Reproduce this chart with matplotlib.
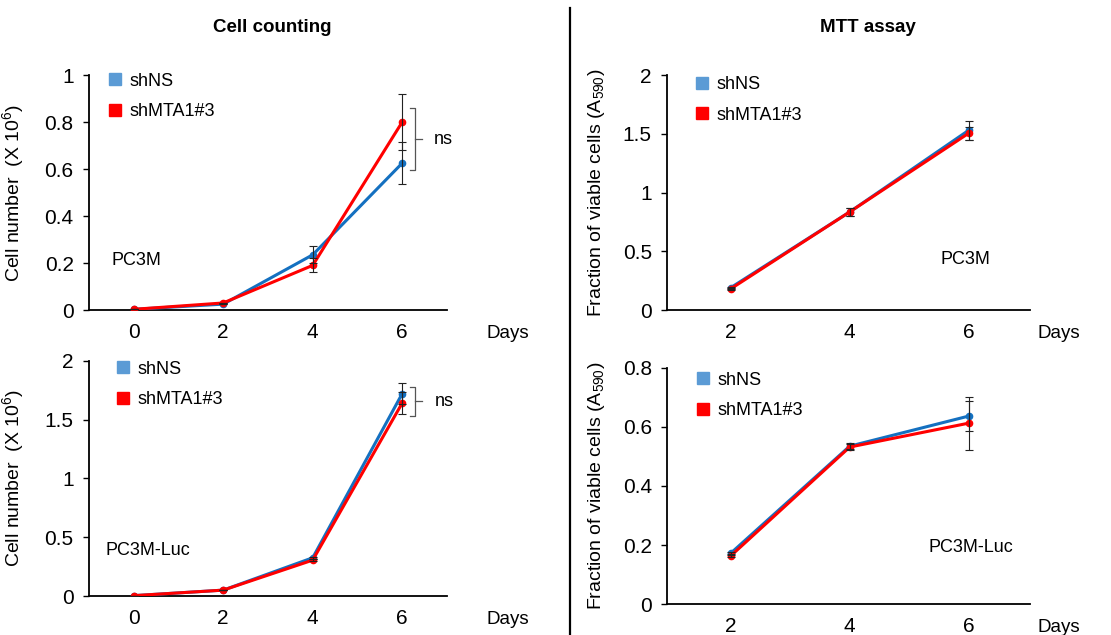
import numpy as np
import matplotlib
matplotlib.use("Agg")
import matplotlib.pyplot as plt
from matplotlib.lines import Line2D
from matplotlib.ticker import FuncFormatter

plt.rcParams['font.family'] = ['Liberation Sans', 'DejaVu Sans']
plt.rcParams['mathtext.fontset'] = 'custom'
plt.rcParams['mathtext.rm'] = 'Liberation Sans'
plt.rcParams['mathtext.it'] = 'Liberation Sans:italic'

# --- data ---
days_cc = [0, 2, 4, 6]
days_mtt = [2, 4, 6]

# Cell counting, PC3M
cc1_ns = [0.003, 0.025, 0.235, 0.625]
cc1_ns_err = [0, 0, 0.037, 0.09]
cc1_mta = [0.003, 0.03, 0.19, 0.80]
cc1_mta_err = [0, 0, 0.03, 0.12]

# Cell counting, PC3M-Luc
cc2_ns = [0.003, 0.05, 0.325, 1.72]
cc2_ns_err = [0, 0, 0.01, 0.09]
cc2_mta = [0.003, 0.05, 0.305, 1.64]
cc2_mta_err = [0, 0, 0.01, 0.09]

# MTT, PC3M
mtt1_ns = [0.19, 0.835, 1.53]
mtt1_ns_err = [0.01, 0.035, 0.08]
mtt1_mta = [0.18, 0.835, 1.505]
mtt1_mta_err = [0.01, 0.035, 0.055]

# MTT, PC3M-Luc
mtt2_ns = [0.172, 0.535, 0.637]
mtt2_ns_err = [0.005, 0.01, 0.05]
mtt2_mta = [0.163, 0.532, 0.613]
mtt2_mta_err = [0.005, 0.01, 0.09]

labels = ['shNS', 'shMTA1#3']
line_blue = '#1470c0'
leg_blue = '#5b9bd5'
red = '#ff0000'

fig = plt.figure(figsize=(11.11, 6.35), dpi=100)

def panel(rect, x, ns, ns_err, mta, mta_err, ylim, yticks, xlim, ylabel, lab_x,
          cell, cell_xy, leg_x, leg_y, days_x):
    ax = fig.add_axes(rect)
    ax.plot(x, ns, color=line_blue, lw=2.2, marker='o', ms=4.5, zorder=3)
    ax.plot(x, mta, color=red, lw=2.2, marker='o', ms=4.5, zorder=4)
    ax.errorbar(x, ns, yerr=ns_err, fmt='none', ecolor='#222222', elinewidth=0.8,
                capsize=3, capthick=0.8, zorder=5)
    ax.errorbar(x, mta, yerr=mta_err, fmt='none', ecolor='#222222', elinewidth=0.8,
                capsize=3, capthick=0.8, zorder=5)
    ax.set_xlim(*xlim)
    ax.set_ylim(*ylim)
    ax.set_yticks(yticks)
    ax.yaxis.set_major_formatter(FuncFormatter(lambda v, p: '%g' % v))
    ax.set_xticks(x)
    ax.tick_params(axis='x', length=0, pad=9, labelsize=15)
    ax.tick_params(axis='y', length=4, width=1, pad=7, labelsize=15)
    for s in ['top', 'right']:
        ax.spines[s].set_visible(False)
    for s in ['left', 'bottom']:
        ax.spines[s].set_linewidth(1.3)
    ax.set_ylabel(ylabel, fontsize=14)
    ax.yaxis.set_label_coords(lab_x, 0.5)
    ax.text(days_x, -0.098, 'Days', transform=ax.transAxes, fontsize=13.5, va='center')
    ax.text(cell_xy[0], cell_xy[1], cell, fontsize=13, va='center')
    handles = [Line2D([], [], marker='s', ls='none', color=leg_blue, ms=8),
               Line2D([], [], marker='s', ls='none', color=red, ms=8)]
    ax.legend(handles, labels, loc='upper left', bbox_to_anchor=(leg_x, leg_y),
              frameon=False, fontsize=13, handlelength=0.8, handletextpad=0.4,
              labelspacing=0.75, borderpad=0, borderaxespad=0)
    return ax

def bracket(ax, x0, x1, xm, y0, y1, txt_x):
    ym = (y0 + y1) / 2
    ax.plot([x0, x1, x1, x0], [y1, y1, y0, y0], color='#555555', lw=0.9)
    ax.plot([x1, xm], [ym, ym], color='#555555', lw=0.9)
    ax.text(txt_x, ym, 'ns', fontsize=13, va='center')

ylab_cc = 'Cell number  (X 10$^6$)'
ylab_mtt = 'Fraction of viable cells (A$_{590}$)'

ax1 = panel([0.0801, 0.5118, 0.3222, 0.370], days_cc, cc1_ns, cc1_ns_err, cc1_mta, cc1_mta_err,
            (0, 1), [0, 0.2, 0.4, 0.6, 0.8, 1], (-1, 7), ylab_cc, -0.175,
            'PC3M', (-0.5, 0.21), 0.053, 1.01, 1.11)
bracket(ax1, 6.17, 6.29, 6.45, 0.596, 0.858, 6.7)

ax2 = panel([0.0801, 0.0614, 0.3222, 0.3706], days_cc, cc2_ns, cc2_ns_err, cc2_mta, cc2_mta_err,
            (0, 2), [0, 0.5, 1, 1.5, 2], (-1, 7), ylab_cc, -0.175,
            'PC3M-Luc', (-0.63, 0.39), 0.075, 1.0, 1.11)
bracket(ax2, 6.17, 6.29, 6.45, 1.53, 1.78, 6.72)

ax3 = panel([0.6004, 0.5118, 0.3267, 0.370], days_mtt, mtt1_ns, mtt1_ns_err, mtt1_mta, mtt1_mta_err,
            (0, 2), [0, 0.5, 1, 1.5, 2], (0.93, 7.03), ylab_mtt, -0.165,
            'PC3M', (5.53, 0.43), 0.077, 0.995, 1.022)

ax4 = panel([0.6004, 0.0488, 0.3267, 0.3717], days_mtt, mtt2_ns, mtt2_ns_err, mtt2_mta, mtt2_mta_err,
            (0, 0.8), [0, 0.2, 0.4, 0.6, 0.8], (0.93, 7.03), ylab_mtt, -0.165,
            'PC3M-Luc', (5.33, 0.19), 0.08, 0.985, 1.022)

fig.text(0.245, 0.957, 'Cell counting', fontsize=13.5, fontweight='bold', ha='center', va='center')
fig.text(0.781, 0.957, 'MTT assay', fontsize=13.5, fontweight='bold', ha='center', va='center')
fig.add_artist(Line2D([0.513, 0.513], [0.0, 0.987], color='black', lw=1.6))

fig.savefig('out.png', dpi=100)
